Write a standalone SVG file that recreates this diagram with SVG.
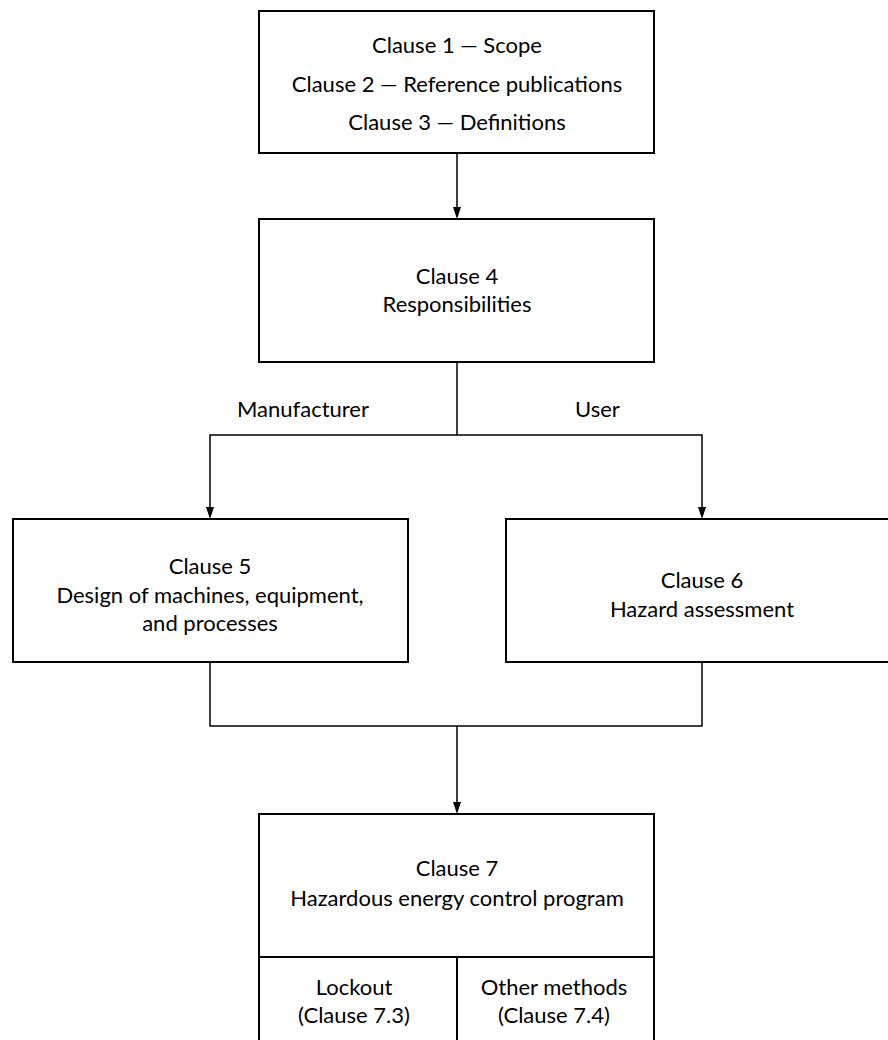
<svg xmlns="http://www.w3.org/2000/svg" width="888" height="1040" viewBox="0 0 888 1040">
<defs>
<style>
.box{fill:#fff;stroke:#000;stroke-width:2}
.ln{fill:none;stroke:#000;stroke-width:1.5}
.ah{fill:#000}
text{font-family:Lato,"Open Sans","Liberation Sans",sans-serif;font-size:22px;fill:#000;text-anchor:middle;dominant-baseline:central}
</style>
</defs>
<rect width="888" height="1040" fill="#fff"/>
<g id="connectors">
<line class="ln" x1="457" y1="153" x2="457" y2="207"/>
<line class="ln" x1="457" y1="362" x2="457" y2="435"/>
<path class="ln" d="M210,507 V435 H702 V507"/>
<path class="ln" d="M210,662 V726 H702 V662"/>
<line class="ln" x1="457" y1="726" x2="457" y2="802"/>
<path class="ah" d="M453,207 L461,207 L457,219 Z"/>
<path class="ah" d="M206,507 L214,507 L210,519 Z"/>
<path class="ah" d="M698,507 L706,507 L702,519 Z"/>
<path class="ah" d="M453,802 L461,802 L457,814 Z"/>
<text x="237" y="408" style="text-anchor:start">Manufacturer</text>
<text x="575" y="408" style="text-anchor:start">User</text>
</g>
<g id="n1">
<rect class="box" x="259" y="11" width="395" height="142"/>
<text x="457" y="44">Clause 1 — Scope</text>
<text x="457" y="83">Clause 2 — Reference publications</text>
<text x="457" y="121">Clause 3 — Definitions</text>
</g>
<g id="n4">
<rect class="box" x="259" y="219" width="395" height="143"/>
<text x="457" y="275">Clause 4</text>
<text x="457" y="303">Responsibilities</text>
</g>
<g id="n5">
<rect class="box" x="13" y="519" width="395" height="143"/>
<text x="210" y="565">Clause 5</text>
<text x="210" y="594">Design of machines, equipment,</text>
<text x="210" y="622">and processes</text>
</g>
<g id="n6">
<rect class="box" x="506" y="519" width="395" height="143"/>
<text x="702" y="579">Clause 6</text>
<text x="702" y="608">Hazard assessment</text>
</g>
<g id="n7">
<rect class="box" x="259" y="814" width="395" height="260"/>
<line class="box" x1="259" y1="957" x2="654" y2="957"/>
<line class="box" x1="457" y1="957" x2="457" y2="1074"/>
<text x="457" y="867">Clause 7</text>
<text x="457" y="897">Hazardous energy control program</text>
<text x="354" y="986">Lockout</text>
<text x="354" y="1014">(Clause 7.3)</text>
<text x="554" y="986">Other methods</text>
<text x="554" y="1014">(Clause 7.4)</text>
</g>
</svg>
